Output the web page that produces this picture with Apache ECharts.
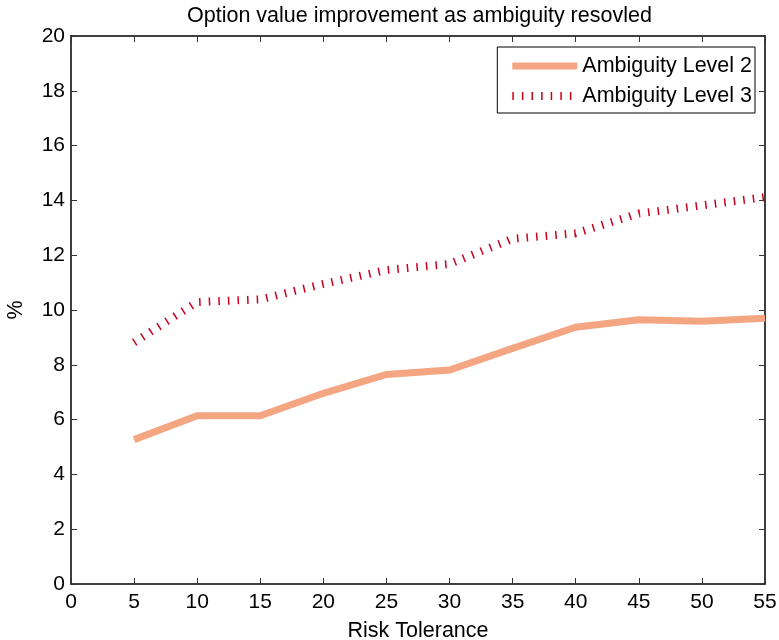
<!DOCTYPE html>
<html><head><meta charset="utf-8">
<script src="https://cdn.jsdelivr.net/npm/echarts@6/dist/echarts.min.js"></script>
<style>html,body{margin:0;padding:0;background:#fff}#c{width:779px;height:640px}</style>
</head><body><div id="c"></div>
<script>
const riskTolerance = [5, 10, 15, 20, 25, 30, 35, 40, 45, 50, 55];
const level2 = [5.27, 6.14, 6.14, 6.96, 7.65, 7.81, 8.6, 9.37, 9.64, 9.59, 9.70];
const level3 = [8.82, 10.29, 10.39, 10.95, 11.46, 11.68, 12.6, 12.8, 13.52, 13.82, 14.12];
const seriesNames = ['Ambiguity Level 2', 'Ambiguity Level 3'];
const titleText = 'Option value improvement as ambiguity resovled';
const xName = 'Risk Tolerance';
const yName = '%';

const FONT = 'Liberation Sans, Arial, Helvetica, sans-serif';
const FS = 21;
const pair = (xs, ys) => xs.map((x, i) => [x, ys[i]]);
const axisCommon = {
  type: 'value',
  axisLine: {show: true, onZero: false, lineStyle: {color: '#000', width: 1.5}},
  axisTick: {show: true, inside: true, length: 6, lineStyle: {color: '#333', width: 1}},
  splitLine: {show: false}
};
const chart = echarts.init(document.getElementById('c'), null, {renderer: 'canvas'});
chart.setOption({
  animation: false,
  backgroundColor: '#fff',
  title: {text: titleText, left: 182, top: 0,
    textStyle: {fontFamily: FONT, fontSize: 21.5, fontWeight: 'normal', color: '#000'}},
  grid: {left: 71, right: 14, top: 36, bottom: 56, containLabel: false, outerBoundsMode: 'none'},
  legend: {
    right: 24, top: 47, orient: 'vertical',
    itemWidth: 65, itemHeight: 14, itemGap: 8,
    padding: [8, 3, 6, 11],
    borderColor: '#000', borderWidth: 1, backgroundColor: '#fff', borderRadius: 0,
    itemStyle: {opacity: 0},
    textStyle: {fontFamily: FONT, fontSize: 21.5, color: '#000', padding: [0, 0, 0, 0]},
    data: [
      {name: seriesNames[0], lineStyle: {width: 7, color: '#F4A582'}},
      {name: seriesNames[1], lineStyle: {width: 8, color: '#CA0020', type: [1.5, 8.1]}}
    ]
  },
  xAxis: [
    Object.assign({}, axisCommon, {min: 0, max: 55, interval: 5, position: 'bottom',
      name: xName, nameLocation: 'middle', nameGap: 36,
      nameTextStyle: {fontFamily: FONT, fontSize: 21.5, color: '#000'},
      axisLabel: {fontFamily: FONT, fontSize: FS, color: '#000', margin: 8}}),
    Object.assign({}, axisCommon, {min: 0, max: 55, interval: 5, position: 'top',
      axisLabel: {show: false}})
  ],
  yAxis: [
    Object.assign({}, axisCommon, {min: 0, max: 20, interval: 2, position: 'left',
      name: yName, nameLocation: 'middle', nameGap: 44, nameRotate: 90,
      nameTextStyle: {fontFamily: FONT, fontSize: 21.5, color: '#000'},
      axisLabel: {fontFamily: FONT, fontSize: FS, color: '#000', margin: 6}}),
    Object.assign({}, axisCommon, {min: 0, max: 20, interval: 2, position: 'right',
      axisLabel: {show: false}})
  ],
  series: [
    {name: seriesNames[0], type: 'line', data: pair(riskTolerance, level2),
      symbol: 'none', showSymbol: false, color: '#F4A582',
      lineStyle: {color: '#F4A582', width: 7, cap: 'butt', join: 'miter'}},
    {name: seriesNames[1], type: 'line', data: pair(riskTolerance, level3),
      symbol: 'none', showSymbol: false, color: '#CA0020',
      lineStyle: {color: '#CA0020', width: 8, type: [1.5, 8.1], cap: 'butt'}}
  ]
});
</script></body></html>
